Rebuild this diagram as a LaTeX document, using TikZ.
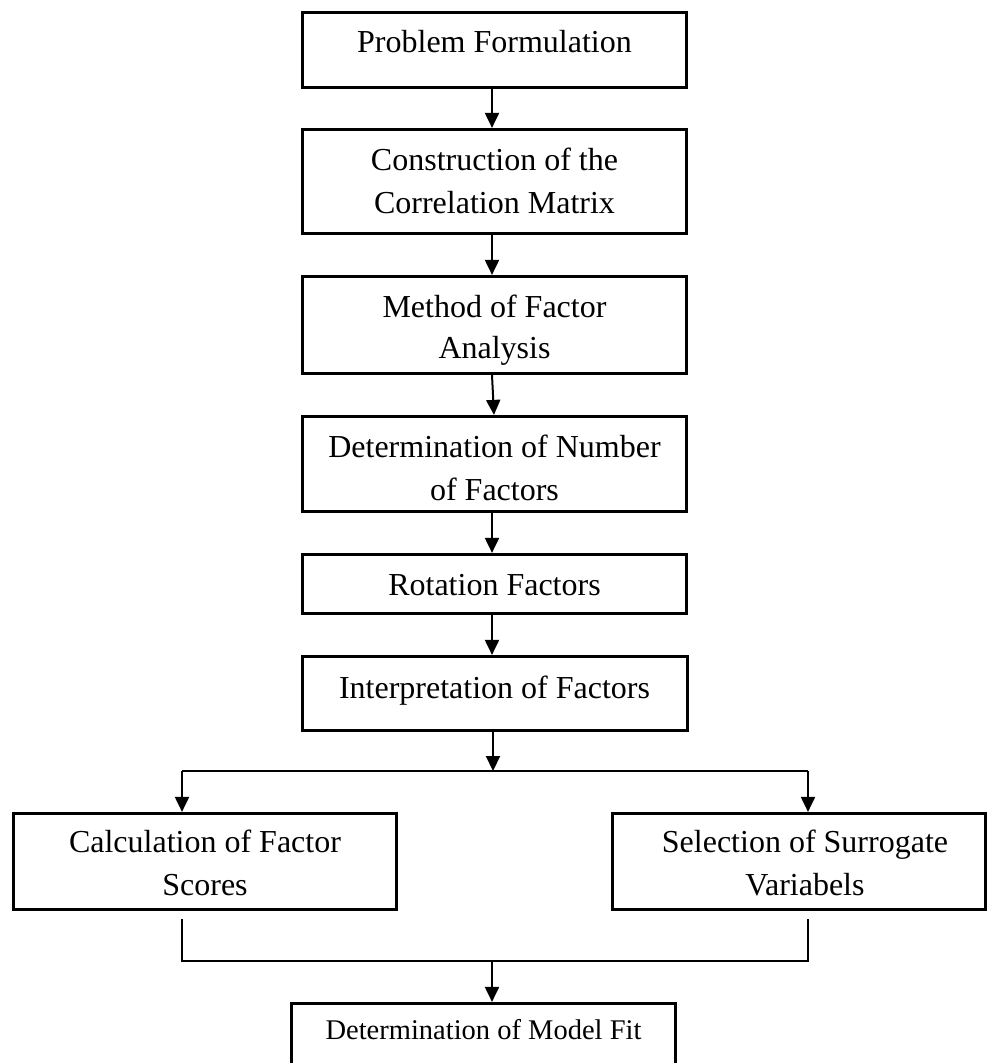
\documentclass[tikz,border=0pt]{standalone}
\usepackage{fontspec}
\setmainfont{Liberation Serif}
\usetikzlibrary{arrows.meta,calc}
\begin{document}
\begin{tikzpicture}[x=1pt,y=-1pt,
  box/.style={draw=black,line width=3.2pt,rectangle,inner sep=0pt},
  txt/.style={anchor=base,inner sep=0pt,font=\fontsize{32}{38}\selectfont},
  txtsmall/.style={anchor=base,inner sep=0pt,font=\fontsize{28.5}{34}\selectfont},
  arr/.style={line width=2pt,-{Triangle[width=14pt,length=15pt]}},
  thinline/.style={line width=1.4pt}]
\useasboundingbox (0,0) rectangle (989,1063);
\clip (0,0) rectangle (989,1063);
\fill[white] (0,0) rectangle (989,1063);

% boxes
\node[box,minimum width=384pt,minimum height=75pt] (b1) at (494.5,50) {};
\node[box,minimum width=384pt,minimum height=104pt] (b2) at (494.5,181.5) {};
\node[box,minimum width=384pt,minimum height=97pt] (b3) at (494.5,325) {};
\node[box,minimum width=384pt,minimum height=95pt] (b4) at (494.5,464) {};
\node[box,minimum width=384pt,minimum height=59pt] (b5) at (494.5,584) {};
\node[box,minimum width=385pt,minimum height=74pt] (b6) at (495,693.5) {};
\node[box,minimum width=383pt,minimum height=96pt] (b7) at (205,861.5) {};
\node[box,minimum width=373pt,minimum height=96pt] (b8) at (799,861.5) {};
\node[box,minimum width=384pt,minimum height=85pt] (b9) at (483.5,1046) {};

% texts
\node[txt] (t1) at (494.5,52) {Problem Formulation};
\node[txt] (t2a) at (494.5,170) {Construction of the};
\node[txt] (t2b) at (494.5,213) {Correlation Matrix};
\node[txt] (t3a) at (494.5,317) {Method of Factor};
\node[txt] (t3b) at (494.5,358) {Analysis};
\node[txt] (t4a) at (494.5,457) {Determination of Number};
\node[txt] (t4b) at (494.5,500) {of Factors};
\node[txt] (t5) at (494.5,595) {Rotation Factors};
\node[txt] (t6) at (494.5,698) {Interpretation of Factors};
\node[txt] (t7a) at (205,852) {Calculation of Factor};
\node[txt] (t7b) at (205,895) {Scores};
\node[txt] (t8a) at (805,852) {Selection of Surrogate};
\node[txt] (t8b) at (805,895) {Variabels};
\node[txtsmall] (t9) at (483.5,1039) {Determination of Model Fit};

% connector coordinates
\coordinate (ax) at (492,0);
\coordinate (bc) at (493,771);
\coordinate (bl) at (182,771);
\coordinate (br) at (808,771);
\coordinate (l1) at (182,919);
\coordinate (l2) at (182,961);
\coordinate (r1) at (808,919);
\coordinate (r2) at (808,961);
\coordinate (mc) at (492,961);

% main chain
\draw[arr] (b1.south -| ax) -- (b2.north -| ax);
\draw[arr] (b2.south -| ax) -- (b3.north -| ax);
\draw[arr] ($(b3.south -| ax)$) -- ($(b4.north -| ax)+(2,0)$);
\draw[arr] (b4.south -| ax) -- (b5.north -| ax);
\draw[arr] (b5.south -| ax) -- (b6.north -| ax);
\draw[arr] (b6.south -| bc) -- (bc);

% branch
\draw[thinline] (bl) -- (br);
\draw[arr] (bl) -- (b7.north -| bl);
\draw[arr] (br) -- (b8.north -| br);

% merge
\draw[thinline] (l1) -- (l2) -- (r2) -- (r1);
\draw[arr] (mc) -- (b9.north -| mc);
\end{tikzpicture}
\end{document}
